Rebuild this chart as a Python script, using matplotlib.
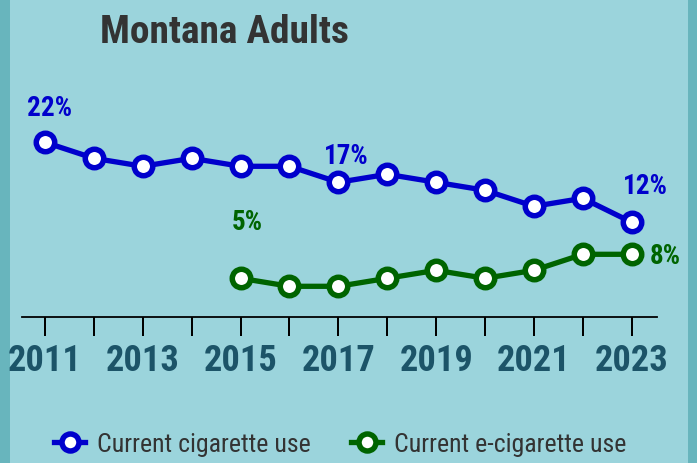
import matplotlib
matplotlib.use("Agg")
import matplotlib.pyplot as plt
from matplotlib.patches import Rectangle

# ---- data ----
years = list(range(2011, 2024))
cig_years = years
cig_values = [22, 20, 19, 20, 19, 19, 17, 18, 17, 16, 14, 15, 12]
ecig_years = list(range(2015, 2024))
ecig_values = [5, 4, 4, 5, 6, 5, 6, 8, 8]
tick_years = list(range(2011, 2024))
tick_labels = [str(y) if (y - 2011) % 2 == 0 else "" for y in tick_years]
title = "Montana Adults"
series_names = ["Current cigarette use", "Current e-cigarette use"]
# labelled points: (year, text, dx_px, dy_px)
cig_labels = [(2011, "22%", 5, 35), (2017, "17%", 8, 27), (2023, "12%", 14, 37)]
ecig_labels = [(2015, "5%", 7, 57), (2023, "8%", 34, -1)]

W, H, DPI = 697, 464, 100
BLUE = "#0000cc"
GREEN = "#006400"
PANEL = "#9bd4dc"
EDGE = "#68b5bd"
TICKC = "#1c5468"
TEXTC = "#333333"
BOLD = dict(family="Roboto Condensed", weight="bold")

fig = plt.figure(figsize=(W / DPI, H / DPI), dpi=DPI)
fig.patch.set_facecolor(EDGE)
fig.add_artist(Rectangle((10 / W, 0), (688 - 10) / W, 1, transform=fig.transFigure,
                         facecolor=PANEL, edgecolor="none", zorder=0))

# axes placement (pixels)
ax_left, ax_right = 21.8, 657.0
ax_bottom_px = 318.3  # from top
ax = fig.add_axes([ax_left / W, 1 - ax_bottom_px / H, (ax_right - ax_left) / W, ax_bottom_px / H])
ax.set_facecolor("none")
ax.set_xlim(2010.526, 2023.517)
ax.set_ylim(0.125, 39.91)

px = 72 / DPI  # points per pixel
line_kw = dict(lw=5.3 * px, marker="o", ms=13.3, mew=3.95, mfc="white", clip_on=False, zorder=3)
ax.plot(cig_years, cig_values, color=BLUE, mec=BLUE, label=series_names[0], **line_kw)
ax.plot(ecig_years, ecig_values, color=GREEN, mec=GREEN, label=series_names[1], **line_kw)

for yr, txt, dx, dy in cig_labels:
    v = cig_values[cig_years.index(yr)]
    ax.annotate(txt, (yr, v), xytext=(dx * px, dy * px), textcoords="offset points",
                ha="center", va="center", color=BLUE, fontsize=19.5, **BOLD)
for yr, txt, dx, dy in ecig_labels:
    v = ecig_values[ecig_years.index(yr)]
    ax.annotate(txt, (yr, v), xytext=(dx * px, dy * px), textcoords="offset points",
                ha="center", va="center", color=GREEN, fontsize=19.5, **BOLD)

for s in ["top", "left", "right"]:
    ax.spines[s].set_visible(False)
ax.spines["bottom"].set_color("black")
ax.spines["bottom"].set_linewidth(1.8 * px)
ax.set_yticks([])
ax.set_xticks(tick_years)
ax.set_xticklabels(tick_labels)
ax.tick_params(axis="x", direction="out", length=19 * px, width=2 * px, color="black",
               pad=4.3, labelcolor=TICKC, labelsize=26.2)
for t in ax.get_xticklabels():
    t.set_fontfamily("Roboto Condensed")
    t.set_fontweight("bold")

fig.text(100 / W, 1 - 43 / H, title, ha="left", va="baseline", color=TEXTC, fontsize=28.4, **BOLD)

leg = fig.legend(loc="center left", bbox_to_anchor=(54 / W, 1 - 445 / H), ncol=2, frameon=False,
                 prop=dict(family="Roboto Condensed", size=18.6), labelcolor=TEXTC,
                 borderpad=0, borderaxespad=0,
                 handlelength=1.2, handletextpad=0.45, columnspacing=1.59, markerscale=0.92)

fig.savefig("out.png", dpi=DPI, facecolor=fig.get_facecolor())
